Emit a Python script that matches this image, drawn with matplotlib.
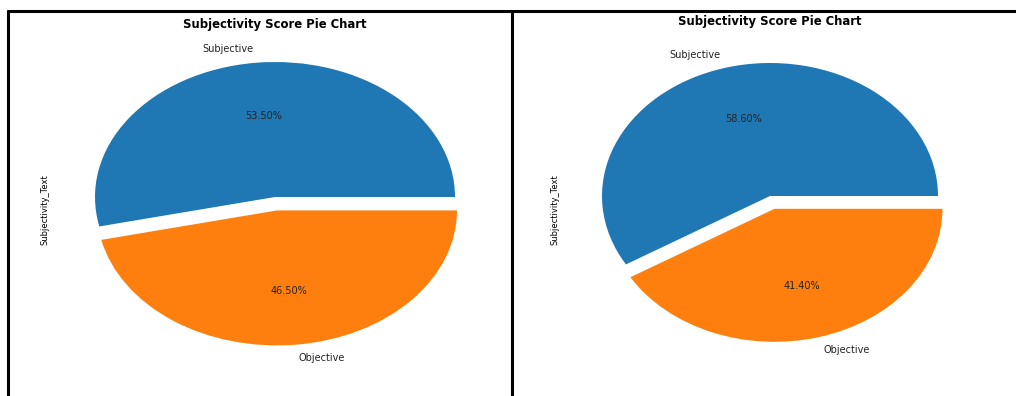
import matplotlib
matplotlib.use("Agg")
import matplotlib.pyplot as plt
from matplotlib.lines import Line2D

# Subjectivity shares for the two datasets
categories = ["Subjective", "Objective"]
left_values = [53.5, 46.5]
right_values = [58.6, 41.4]
colors = ["#1f77b4", "#ff7f0e"]
title = "Subjectivity Score Pie Chart"
ylabel = "Subjectivity_Text"

W, H = 1016, 396
fig = plt.figure(figsize=(W / 100, H / 100), dpi=100)


def px_axes(x0, x1, y0, y1):
    """Create axes from pixel bounds (y measured from the top)."""
    return fig.add_axes([x0 / W, (H - y1) / H, (x1 - x0) / W, (y1 - y0) / H])


def draw_pie(ax, values, title_y, label_xy):
    ax.pie(values, labels=categories, colors=colors, explode=[0, 0.1],
           autopct="%.2f%%", textprops={"fontsize": 7, "color": "#222222"})
    ax.set_aspect("auto")
    ax.set_xlim(-1.25, 1.25)
    ax.set_ylim(-1.25, 1.25)
    ax.set_title(title, fontsize=8.4, fontweight="bold", pad=0, y=title_y)
    ax.set_ylabel(ylabel, fontsize=6)
    ax.yaxis.set_label_coords(*label_xy)


ax1 = px_axes(50, 500, 28.25, 365.75)
draw_pie(ax1, left_values, title_y=1.0, label_xy=(0.0, 0.4615))

ax2 = px_axes(560, 980, 29.75, 362.25)
draw_pie(ax2, right_values, title_y=1.0128, label_xy=(-0.002, 0.458))

# Table-style frame lines around the two panels
def fig_line(xs, ys, lw=2.2):
    fig.add_artist(Line2D([x / W for x in xs], [(H - y) / H for y in ys],
                          color="black", linewidth=lw, solid_capstyle="butt"))

fig_line([7, W], [11, 11])
fig_line([8, 8], [10, H])
fig_line([512, 512], [10, H])

fig.savefig("out.png", dpi=100)
